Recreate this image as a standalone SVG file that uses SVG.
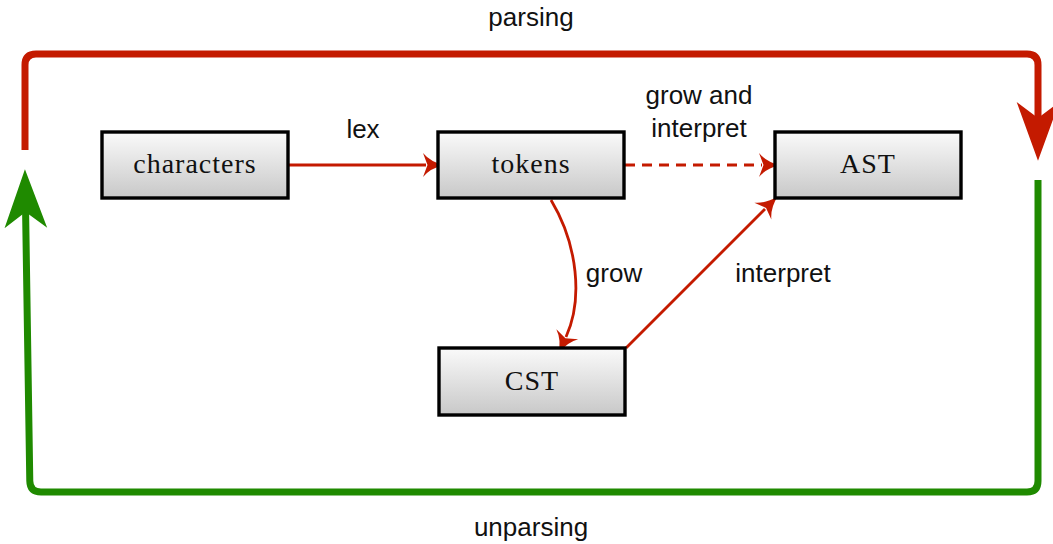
<svg xmlns="http://www.w3.org/2000/svg" width="1053" height="544" viewBox="0 0 1053 544">
<style>
.box{fill:url(#g);stroke:#000;stroke-width:3.4}
.bt{font-family:"Liberation Serif",serif;font-size:28px;letter-spacing:1px;text-anchor:middle;fill:#111}
.lt{font-family:"Liberation Sans",sans-serif;font-size:26px;text-anchor:middle;fill:#111}
.c{fill:none;stroke:#c41a00;stroke-width:2.8}
.big{fill:none;stroke-width:7}
</style>
<defs>
<linearGradient id="g" x1="0" y1="0" x2="0" y2="1">
<stop offset="0" stop-color="#fafafa"/>
<stop offset="1" stop-color="#c8c8c8"/>
</linearGradient>
<marker id="a" markerUnits="userSpaceOnUse" markerWidth="30" markerHeight="30" viewBox="-5 -10 20 20" refX="0" refY="0" orient="auto" overflow="visible">
<path d="M12 0 Q3 -2 -2 -8 L1 0 L-2 8 Q3 2 12 0 Z" fill="#c41a00"/>
</marker>
<marker id="br" markerUnits="userSpaceOnUse" markerWidth="80" markerHeight="80" viewBox="-20 -20 60 40" refX="0" refY="0" orient="auto" overflow="visible">
<path d="M32 0 L-12 -16 L0 0 L-12 16 Z" fill="#c41a00"/>
</marker>
<marker id="bg" markerUnits="userSpaceOnUse" markerWidth="80" markerHeight="80" viewBox="-20 -20 60 40" refX="0" refY="0" orient="auto" overflow="visible">
<path d="M32 0 L-12 -16 L0 0 L-12 16 Z" fill="#1f8a00"/>
</marker>
</defs>
<g id="connectors">
<path id="parsing-loop" class="big" stroke="#c41a00" d="M25 150 L25 65 Q25 54 36 54 L1027 54 Q1038 54 1038 65 L1038 118" marker-end="url(#br)"/>
<path id="unparsing-loop" class="big" stroke="#1f8a00" d="M1038 180 L1038 481 Q1038 492 1027 492 L41 492 Q30 492 29.8 481 L25.6 212" marker-end="url(#bg)"/>
<path id="lex" class="c" d="M289 165 L426 165" marker-end="url(#a)"/>
<path id="grow-interpret" class="c" stroke-width="3" stroke-dasharray="10 7" d="M625 165 L762 165" marker-end="url(#a)"/>
<path id="grow" class="c" d="M551 200 C578 245 583 300 566 337" marker-end="url(#a)"/>
<path id="interpret" class="c" d="M626 348 L765 209" marker-end="url(#a)"/>
</g>
<g id="labels">
<text class="lt" x="531" y="26">parsing</text>
<text class="lt" x="531" y="536">unparsing</text>
<text class="lt" x="363" y="138">lex</text>
<text class="lt" x="699" y="104">grow and</text>
<text class="lt" x="699" y="137">interpret</text>
<text class="lt" x="614" y="282">grow</text>
<text class="lt" x="783" y="282">interpret</text>
</g>
<g id="characters"><rect class="box" x="102" y="132" width="186" height="66"/><text class="bt" x="195" y="173">characters</text></g>
<g id="tokens"><rect class="box" x="438" y="132" width="186" height="66"/><text class="bt" x="531" y="173">tokens</text></g>
<g id="AST"><rect class="box" x="775" y="132" width="186" height="66"/><text class="bt" x="868" y="173">AST</text></g>
<g id="CST"><rect class="box" x="439" y="348" width="186" height="67"/><text class="bt" x="532" y="390">CST</text></g>
</svg>
